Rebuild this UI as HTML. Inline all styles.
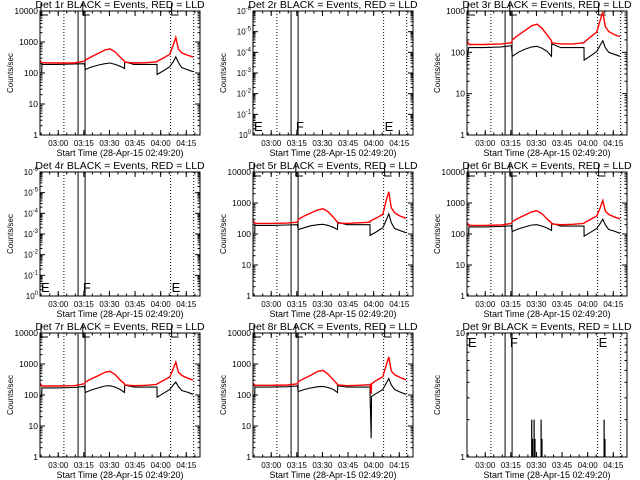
<!DOCTYPE html>
<html><head><meta charset="utf-8"><style>
html,body{margin:0;padding:0;background:#fff;}
svg{display:block;font-family:"Liberation Sans",sans-serif;}
</style></head><body>
<svg id="chart" width="640" height="480" viewBox="0 0 640 480" xmlns="http://www.w3.org/2000/svg"></svg>
<script>
// ---- data ----
const tickLabels = ["03:00","03:15","03:30","03:45","04:00","04:15"];
const tickMinutes = [10.67,25.67,40.67,55.67,70.67,85.67];
const commonTimes = [0,1,1.1,10,20,26,26.5,30,34,38,41,44,47,49.5,49.6,55,62,68.5,68.6,72,76,78,79.5,81,83,86,89.6];
const det1Black = [100,100,190,190,195,200,130,155,180,200,210,190,165,140,230,190,190,190,90,115,160,230,330,220,150,130,110];
const det1Red = [250,220,215,210,210,240,260,330,430,550,600,480,320,240,225,210,215,230,240,300,400,800,1400,600,450,380,330];
const det3Black = [70,130,130,130,135,145,80,100,120,135,140,125,105,80,160,130,130,130,65,80,105,150,190,130,100,90,80];
const det3Red = [190,160,155,155,160,170,200,260,340,440,480,380,260,190,170,160,160,170,175,230,310,600,950,420,320,270,240];
const det5Black = [100,100,190,190,195,200,140,160,185,200,205,190,165,140,240,200,200,200,90,115,160,280,450,230,150,130,110];
const det5Red = [280,230,220,220,225,240,300,380,480,600,650,520,350,240,225,220,230,240,260,320,430,1200,2300,700,480,380,320];
const det6Black = [100,100,170,170,175,185,120,145,170,195,200,180,155,130,220,180,180,180,85,110,150,220,300,200,140,125,105];
const det6Red = [230,200,190,190,195,220,250,320,410,520,560,450,300,230,210,200,205,220,230,290,380,700,1200,550,430,360,310];
const det7Black = [90,90,170,170,175,190,120,145,170,195,200,180,150,120,210,180,180,180,85,110,150,210,260,190,140,125,105];
const det7Red = [240,200,195,195,200,230,260,330,420,540,580,460,300,230,210,200,205,220,230,290,380,700,1150,550,430,360,300];
const det8Times = [0,1,1.1,10,20,26,26.5,30,34,38,41,44,47,49.5,49.6,55,62,68.5,68.6,69.2,69.4,72,76,78,79.5,81,83,86,89.6];
const det8Black = [90,90,180,180,185,195,130,150,170,185,190,175,150,120,200,180,180,180,90,4,90,110,150,240,340,210,150,125,105];
const det8Red = [240,210,205,205,210,230,270,340,440,580,620,470,310,220,210,200,205,215,230,110,230,290,390,900,1700,600,450,370,310];
const det9SpikeTimes = [37.9,38.4,39.3,39.8,43.4,43.9,80.3,80.8];
const det9SpikeValues = [2,1.4,2,1.4,2,1.4,2,1.4];
const markerTimes = [0,24.5,76.5];
const markerLetters = ["E","F","E"];
const dottedTimes = [14,76.5,90];
const solidTimes = [22.3,26.4];

const panels = [
 {n:"1",type:"log",lo:0,hi:4,times:commonTimes,black:det1Black,red:det1Red,mk:"top"},
 {n:"2",type:"neg",mk:"bottom"},
 {n:"3",type:"log",lo:0,hi:3,times:commonTimes,black:det3Black,red:det3Red,mk:"top"},
 {n:"4",type:"neg",mk:"bottom"},
 {n:"5",type:"log",lo:0,hi:4,times:commonTimes,black:det5Black,red:det5Red,mk:"top"},
 {n:"6",type:"log",lo:0,hi:4,times:commonTimes,black:det6Black,red:det6Red,mk:"top"},
 {n:"7",type:"log",lo:0,hi:4,times:commonTimes,black:det7Black,red:det7Red,mk:"top"},
 {n:"8",type:"log",lo:0,hi:4,times:det8Times,black:det8Black,red:det8Red,mk:"top"},
 {n:"9",type:"log",lo:0,hi:1,spikes:true,mk:"letters-top"}
];
const NS="http://www.w3.org/2000/svg";
const svg=document.getElementById('chart');
function mk(tag,attrs,parent){const e=document.createElementNS(NS,tag);for(const k in attrs)e.setAttribute(k,attrs[k]);(parent||svg).appendChild(e);return e;}
const colX=[0,213,427], rowY=[0,161,322];
panels.forEach((p,i)=>{
 const ox=colX[i%3], oy=rowY[Math.floor(i/3)];
 const g=mk('g',{transform:`translate(${ox},${oy})`});
 
 
 const L=40,R=200,T=11,B=135;
 const xs=t=>L+t*(R-L)/93.7;
 const nd=p.type==="neg"?6:(p.hi-p.lo);
 const ys=v=>B-(Math.log10(v)-p.lo)*(B-T)/nd;
 const tt=mk('text',{x:120,y:8,'text-anchor':'middle','font-size':'10.5'},g);tt.textContent=`Det ${p.n}r BLACK = Events, RED = LLD`;
 
 
 const yt=mk('text',{x:0,y:0,'text-anchor':'middle','font-size':'8',transform:`translate(13,73) rotate(-90)`},g);yt.textContent="Counts/sec";
 
 
 const xt=mk('text',{x:120,y:156,'text-anchor':'middle','font-size':'9'},g);xt.textContent="Start Time (28-Apr-15 02:49:20)";
 
 
 tickMinutes.forEach((m,j)=>{const x=xs(m);
  mk('line',{x1:x,x2:x,y1:B,y2:B-5,stroke:'#000'},g);mk('line',{x1:x,x2:x,y1:T,y2:T+5,stroke:'#000'},g);
  const tl=mk('text',{x:x,y:146,'text-anchor':'middle','font-size':'8'},g);tl.textContent=tickLabels[j];
  
  });
 for(let m=0.67;m<93;m+=5){const x=xs(m);mk('line',{x1:x,x2:x,y1:B,y2:B-2.5,stroke:'#000'},g);mk('line',{x1:x,x2:x,y1:T,y2:T+2.5,stroke:'#000'},g);}
 for(let d=0;d<=nd;d++){const y=B-d*(B-T)/nd;
  mk('line',{x1:L,x2:L+5,y1:y,y2:y,stroke:'#000'},g);mk('line',{x1:R,x2:R-5,y1:y,y2:y,stroke:'#000'},g);
  let lab;
  if(p.type==="neg"){lab=mk('text',{x:L-2,y:y+3,'text-anchor':'end','font-size':'8'},g);lab.textContent="10";
   const s=mk('tspan',{dy:-4,'font-size':'6'},lab);s.textContent=d===0?"0":"-"+d;}
  else{lab=mk('text',{x:L-2,y:y+3,'text-anchor':'end','font-size':'8.5'},g);lab.textContent=String(Math.pow(10,p.lo+d));}
  
  
  if(d<nd)for(let k=2;k<=9;k++){const yy=y-Math.log10(k)*(B-T)/nd;mk('line',{x1:L,x2:L+2.5,y1:yy,y2:yy,stroke:'#000'},g);mk('line',{x1:R,x2:R-2.5,y1:yy,y2:yy,stroke:'#000'},g);}
 }
 dottedTimes.forEach(t=>{const x=xs(t);mk('line',{x1:x,x2:x,y1:T,y2:B,stroke:'#000','stroke-dasharray':'1,2'},g);});
 solidTimes.forEach(t=>{const x=xs(t);mk('line',{x1:x,x2:x,y1:T,y2:B,stroke:'#000'},g);});
 markerTimes.forEach((t,j)=>{const x=xs(t)+1;
  if(p.mk==="top"){mk('path',{d:`M${x} ${T-8} V${T+4} H${x+7}`,fill:'none',stroke:'#000'},g);}
  else{const y=p.mk==="bottom"?B-4:T+14;const e=mk('text',{x:x,y:y,'font-size':'13'},g);e.textContent=markerLetters[j];
   
   }
 });
 const line=(vals,col,name)=>{const pts=p.times.map((t,j)=>xs(t).toFixed(1)+','+ys(vals[j]).toFixed(1)).join(' ');
  const pl=mk('polyline',{points:pts,fill:'none',stroke:col,'stroke-width':col==='#f00'?1.4:1.1},g);
  
  };
 if(p.black){line(p.black,'#000','events-line');line(p.red,'#f00','lld-line');}
 if(p.spikes){det9SpikeTimes.forEach((t,j)=>{const x=xs(t);const s=mk('line',{x1:x,x2:x,y1:B,y2:ys(det9SpikeValues[j]),stroke:'#000','stroke-width':1.2},g);
  
  });}
 mk('rect',{x:L,y:T,width:R-L,height:B-T,fill:'none',stroke:'#000'},g);
});
</script>
</body></html>
